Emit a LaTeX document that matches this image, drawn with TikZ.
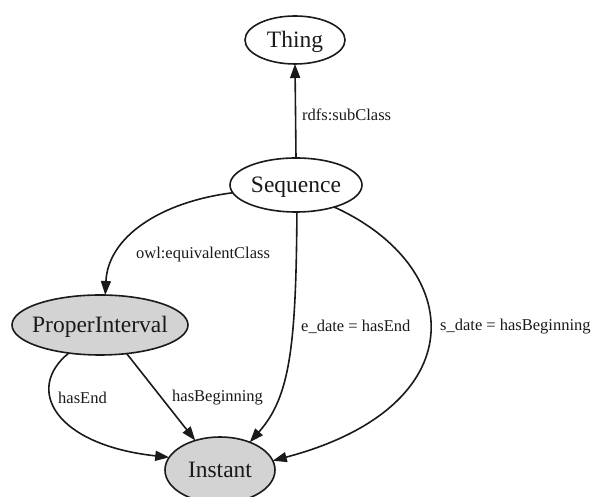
\documentclass[tikz,border=0pt]{standalone}
\usepackage{fontspec}
\setmainfont{Liberation Serif}
\usetikzlibrary{shapes.geometric,arrows.meta}

\definecolor{ink}{HTML}{1A1A1A}
\definecolor{classfill}{HTML}{D3D3D3}

% ellipse of fixed size; the label box takes no room
\newcommand{\ovaltext}[1]{\makebox[0pt]{\raisebox{-0.33em}[0pt][0pt]{#1}}}

\tikzset{
  cls/.style={ellipse, draw=ink, line width=1.6pt, inner sep=0pt, outer sep=0pt,
    font=\fontsize{23.5}{28}\selectfont, text=ink},
  filled/.style={cls, fill=classfill},
  rel/.style={draw=ink, line width=1.6pt, -{Triangle[length=14pt,width=10pt]}},
  lbl/.style={font=\fontsize{16.5}{20}\selectfont, text=ink, inner sep=0pt}
}

\begin{document}
\begin{tikzpicture}[x=1pt,y=1pt]
  \useasboundingbox (0,0) rectangle (595,497);

  % classes
  \node[cls, minimum width=100pt, minimum height=48pt] (thing) at (295,457) {\ovaltext{Thing}};
  \node[cls, minimum width=132pt, minimum height=54pt] (seq) at (296,312) {\ovaltext{Sequence}};
  \node[filled, minimum width=176pt, minimum height=60pt] (pi) at (100,172) {\ovaltext{ProperInterval}};
  \node[filled, minimum width=110pt, minimum height=66pt] (inst) at (220,27) {\ovaltext{Instant}};

  % relations
  \draw[rel] (seq.north) -- (thing.south);
  \node[lbl, anchor=west] (l1) at (302,382) {rdfs:subClass};

  \draw[rel] (seq.187) .. controls (160,295) and (108,260) .. (pi.80);
  \node[lbl] (l2) at (203,242) {owl:equivalentClass};

  \draw[rel] (seq.-88) .. controls (296,150) and (290,100) .. (inst.43);
  \node[lbl, anchor=west] (l3) at (301,170) {e\_date = hasEnd};

  \draw[rel] (seq.-30) .. controls (466,230) and (476,90) .. (inst.10);
  \node[lbl, anchor=west] (l4) at (440,170) {s\_date = hasBeginning};

  \draw[rel] (pi.222) .. controls (24,108) and (55,52) .. (inst.166);
  \node[lbl, anchor=west] (l5) at (58,99) {hasEnd};

  \draw[rel] (pi.-47) -- (inst.130);
  \node[lbl, anchor=west] (l6) at (172,99) {hasBeginning};
\end{tikzpicture}
\end{document}
